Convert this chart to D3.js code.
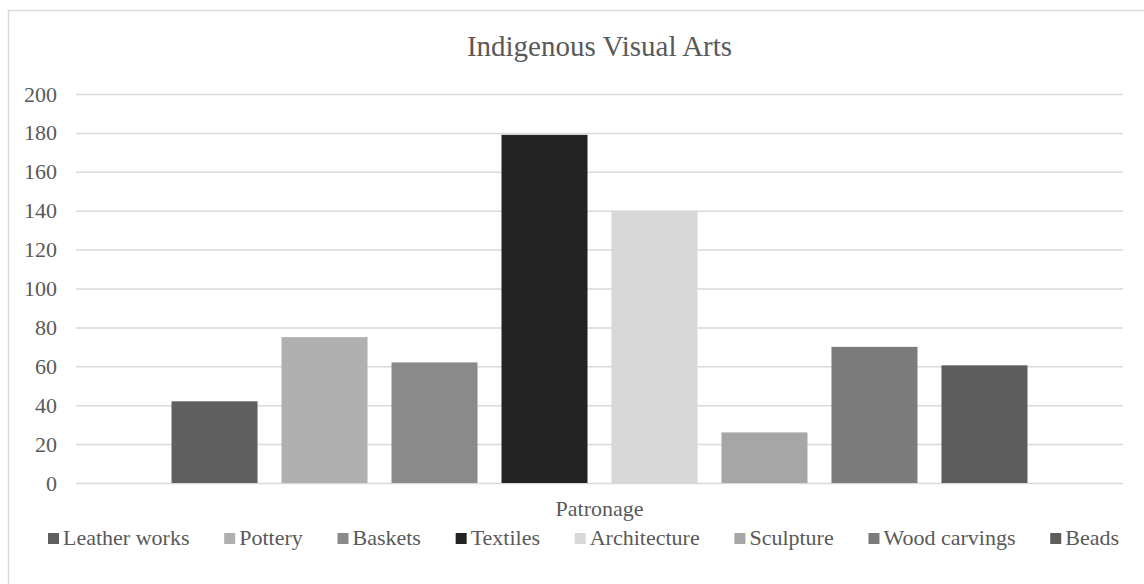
<!DOCTYPE html>
<html>
<head>
<meta charset="utf-8">
<script src="https://cdn.jsdelivr.net/npm/d3@7"></script>
</head>
<body style="margin:0; background:#fff">
<div id="chart"></div>
<script>
var w = 1144, h = 584;

// data
var categories = ["Patronage"];
var seriesNames = ["Leather works", "Pottery", "Baskets", "Textiles", "Architecture", "Sculpture", "Wood carvings", "Beads"];
var seriesValues = [42, 75, 62, 179, 140, 26, 70, 60.5];
var seriesColors = ["#5f5f5f", "#b0b0b0", "#8a8a8a", "#232323", "#d7d7d7", "#a6a6a6", "#7b7b7b", "#5d5d5d"];
var yTicks = [0, 20, 40, 60, 80, 100, 120, 140, 160, 180, 200];

var serif = "Liberation Serif",
    textColor = "#595959";

var margin = {top: 94, right: 21, bottom: 101, left: 76},
    width = w - margin.left - margin.right,
    height = h - margin.top - margin.bottom;

var svg = d3.select("#chart").append("svg")
    .attr("width", w)
    .attr("height", h);

// chart border (right and bottom edges fall outside the picture)
svg.append("rect")
    .attr("x", 8.5).attr("y", 10.5)
    .attr("width", w).attr("height", h)
    .attr("fill", "none")
    .attr("stroke", "#d9d9d9")
    .attr("stroke-width", 1.5);

svg.append("text")
    .attr("x", margin.left + width / 2)
    .attr("y", 56)
    .attr("text-anchor", "middle")
    .attr("font-family", serif)
    .attr("font-size", 29)
    .attr("fill", textColor)
    .text("Indigenous Visual Arts");

var g = svg.append("g")
    .attr("transform", "translate(" + margin.left + "," + margin.top + ")");

var x0 = d3.scaleBand().domain(categories).range([0, width]).paddingInner(0).paddingOuter(0.1116);
var x1 = d3.scaleBand().domain(seriesNames).range([0, x0.bandwidth()]).paddingInner(0.218).paddingOuter(0);
var y = d3.scaleLinear().domain([0, 200]).range([height, 0]);

// gridlines + y labels
var yAxis = g.append("g")
    .call(d3.axisLeft(y).tickValues(yTicks).tickSize(-width).tickPadding(19))
    .attr("font-family", serif)
    .attr("font-size", 22);
yAxis.select(".domain").remove();
yAxis.selectAll(".tick line").attr("stroke", "#d9d9d9").attr("stroke-width", 1.5);
yAxis.selectAll(".tick text").attr("fill", textColor);

// bars
var data = seriesNames.map(function(s, i) { return {name: s, value: seriesValues[i], color: seriesColors[i]}; });

var cat = g.selectAll(".cat")
    .data(categories)
    .enter().append("g")
      .attr("transform", function(d) { return "translate(" + x0(d) + ",0)"; });

cat.selectAll("rect")
    .data(data)
    .enter().append("rect")
      .attr("x", function(d) { return x1(d.name); })
      .attr("y", function(d) { return y(d.value); })
      .attr("width", x1.bandwidth())
      .attr("height", function(d) { return height - y(d.value); })
      .attr("fill", function(d) { return d.color; });

// category label
g.selectAll(".catlabel")
    .data(categories)
    .enter().append("text")
      .attr("x", function(d) { return x0(d) + x0.bandwidth() / 2; })
      .attr("y", height + 33)
      .attr("text-anchor", "middle")
      .attr("font-family", serif)
      .attr("font-size", 22)
      .attr("fill", textColor)
      .text(function(d) { return d; });

// legend
var legendLeft = 48, legendRight = 1119, legendY = 545;
var legend = svg.append("g");
var items = legend.selectAll(".item")
    .data(data)
    .enter().append("g");
items.append("rect")
    .attr("width", 11).attr("height", 11)
    .attr("y", legendY - 12)
    .attr("fill", function(d) { return d.color; });
items.append("text")
    .attr("x", 15)
    .attr("y", legendY)
    .attr("font-family", serif)
    .attr("font-size", 22)
    .attr("fill", textColor)
    .text(function(d) { return d.name; });

var widths = [];
items.each(function() { widths.push(15 + d3.select(this).select("text").node().getComputedTextLength()); });
var gap = (legendRight - legendLeft - d3.sum(widths)) / (widths.length - 1);
var pos = legendLeft;
items.attr("transform", function(d, i) {
  var t = "translate(" + pos + ",0)";
  pos += widths[i] + gap;
  return t;
});
</script>
</body>
</html>
